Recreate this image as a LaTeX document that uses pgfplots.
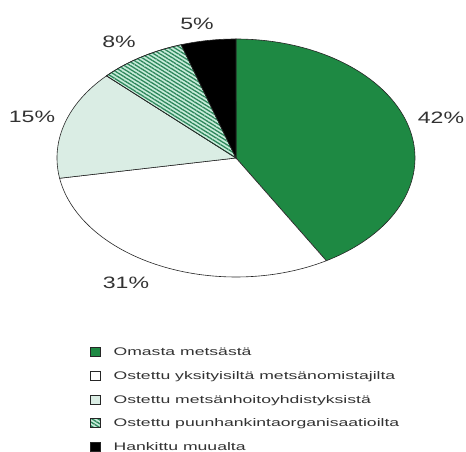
\documentclass[border=0pt]{standalone}
\usepackage{fontspec}
\setmainfont{Liberation Sans}
\usepackage{graphicx}
\usepackage{pgfplots}
\usepackage{pgfplotstable}
\pgfplotsset{compat=1.18}
\usetikzlibrary{patterns.meta}
\definecolor{pgreen}{RGB}{30,137,67}
\definecolor{plight}{RGB}{218,237,228}
\definecolor{phbase}{RGB}{200,236,218}
\definecolor{phline}{RGB}{45,135,92}
\definecolor{ptext}{RGB}{50,50,50}
\newcommand\legtxt[1]{\scalebox{1.6}[1]{#1}}
\newcommand\pc[1]{\scalebox{1.4}[1]{#1\%}}
\pgfplotstableread{
label value
Omasta 42
Yksityiset 31
Mhy 15
Puunhankinta 8
Muualta 5
}\piedata
\begin{document}
\begin{tikzpicture}
\pgfplotstablegetelem{0}{value}\of\piedata \edef\vA{\pgfplotsretval}
\pgfplotstablegetelem{1}{value}\of\piedata \edef\vB{\pgfplotsretval}
\pgfplotstablegetelem{2}{value}\of\piedata \edef\vC{\pgfplotsretval}
\pgfplotstablegetelem{3}{value}\of\piedata \edef\vD{\pgfplotsretval}
\pgfplotstablegetelem{4}{value}\of\piedata \edef\vE{\pgfplotsretval}
\pgfmathsetmacro\tot{\vA+\vB+\vC+\vD+\vE}
\pgfmathsetmacro\aB{(\vA/\tot)*360}
\pgfmathsetmacro\aC{((\vA+\vB)/\tot)*360}
\pgfmathsetmacro\aD{((\vA+\vB+\vC)/\tot)*360}
\pgfmathsetmacro\aE{((\vA+\vB+\vC+\vD)/\tot)*360}
\begin{axis}[
  scale only axis, width=466pt, height=452pt,
  xmin=0, xmax=466, ymin=0, ymax=452,
  ticks=none, axis line style={draw=none},
  clip=false,
  legend style={at={(axis cs:90,105)}, anchor=north west, draw=none, fill=none,
    inner sep=0pt, row sep=12pt, column sep=13pt, text=ptext,
    font=\fontsize{11}{12}\selectfont,
    nodes={inner sep=0pt, anchor=base west, text height=8pt, text depth=3pt}},
  legend cell align=left,
  legend image code/.code={\draw[#1, line width=0.4pt] (0pt,-0.5pt) rectangle (10pt,8.5pt);},
  every axis plot/.append style={draw=black!85, line width=0.6pt, samples=90, variable=\t},
]
\addplot[fill=pgreen, domain=0:\aB] ({236+179*sin(\t)}, {294+119*cos(\t)}) -- (axis cs:236,294) -- cycle;
\addlegendentry{\legtxt{Omasta metsästä}}
\addplot[fill=white, domain=\aB:\aC] ({236+179*sin(\t)}, {294+119*cos(\t)}) -- (axis cs:236,294) -- cycle;
\addlegendentry{\legtxt{Ostettu yksityisiltä metsänomistajilta}}
\addplot[fill=plight, domain=\aC:\aD] ({236+179*sin(\t)}, {294+119*cos(\t)}) -- (axis cs:236,294) -- cycle;
\addlegendentry{\legtxt{Ostettu metsänhoitoyhdistyksistä}}
\addplot[fill=phbase, postaction={pattern={Lines[angle=-32,distance=3.2pt,line width=1.3pt]}, pattern color=phline}, domain=\aD:\aE] ({236+179*sin(\t)}, {294+119*cos(\t)}) -- (axis cs:236,294) -- cycle;
\addlegendentry{\legtxt{Ostettu puunhankintaorganisaatioilta}}
\addplot[fill=black, domain=\aE:360] ({236+179*sin(\t)}, {294+119*cos(\t)}) -- (axis cs:236,294) -- cycle;
\addlegendentry{\legtxt{Hankittu muualta}}
\begin{scope}[every node/.style={text=ptext, font=\fontsize{16.5}{18}\selectfont}]
\node at (axis cs:441,334) {\pc{\vA}};
\node at (axis cs:126,169) {\pc{\vB}};
\node at (axis cs:32,335) {\pc{\vC}};
\node at (axis cs:119,410) {\pc{\vD}};
\node at (axis cs:197,428) {\pc{\vE}};
\end{scope}
\end{axis}
\pgfresetboundingbox
\useasboundingbox (0,0) rectangle (466pt,452pt);
\end{tikzpicture}
\end{document}
